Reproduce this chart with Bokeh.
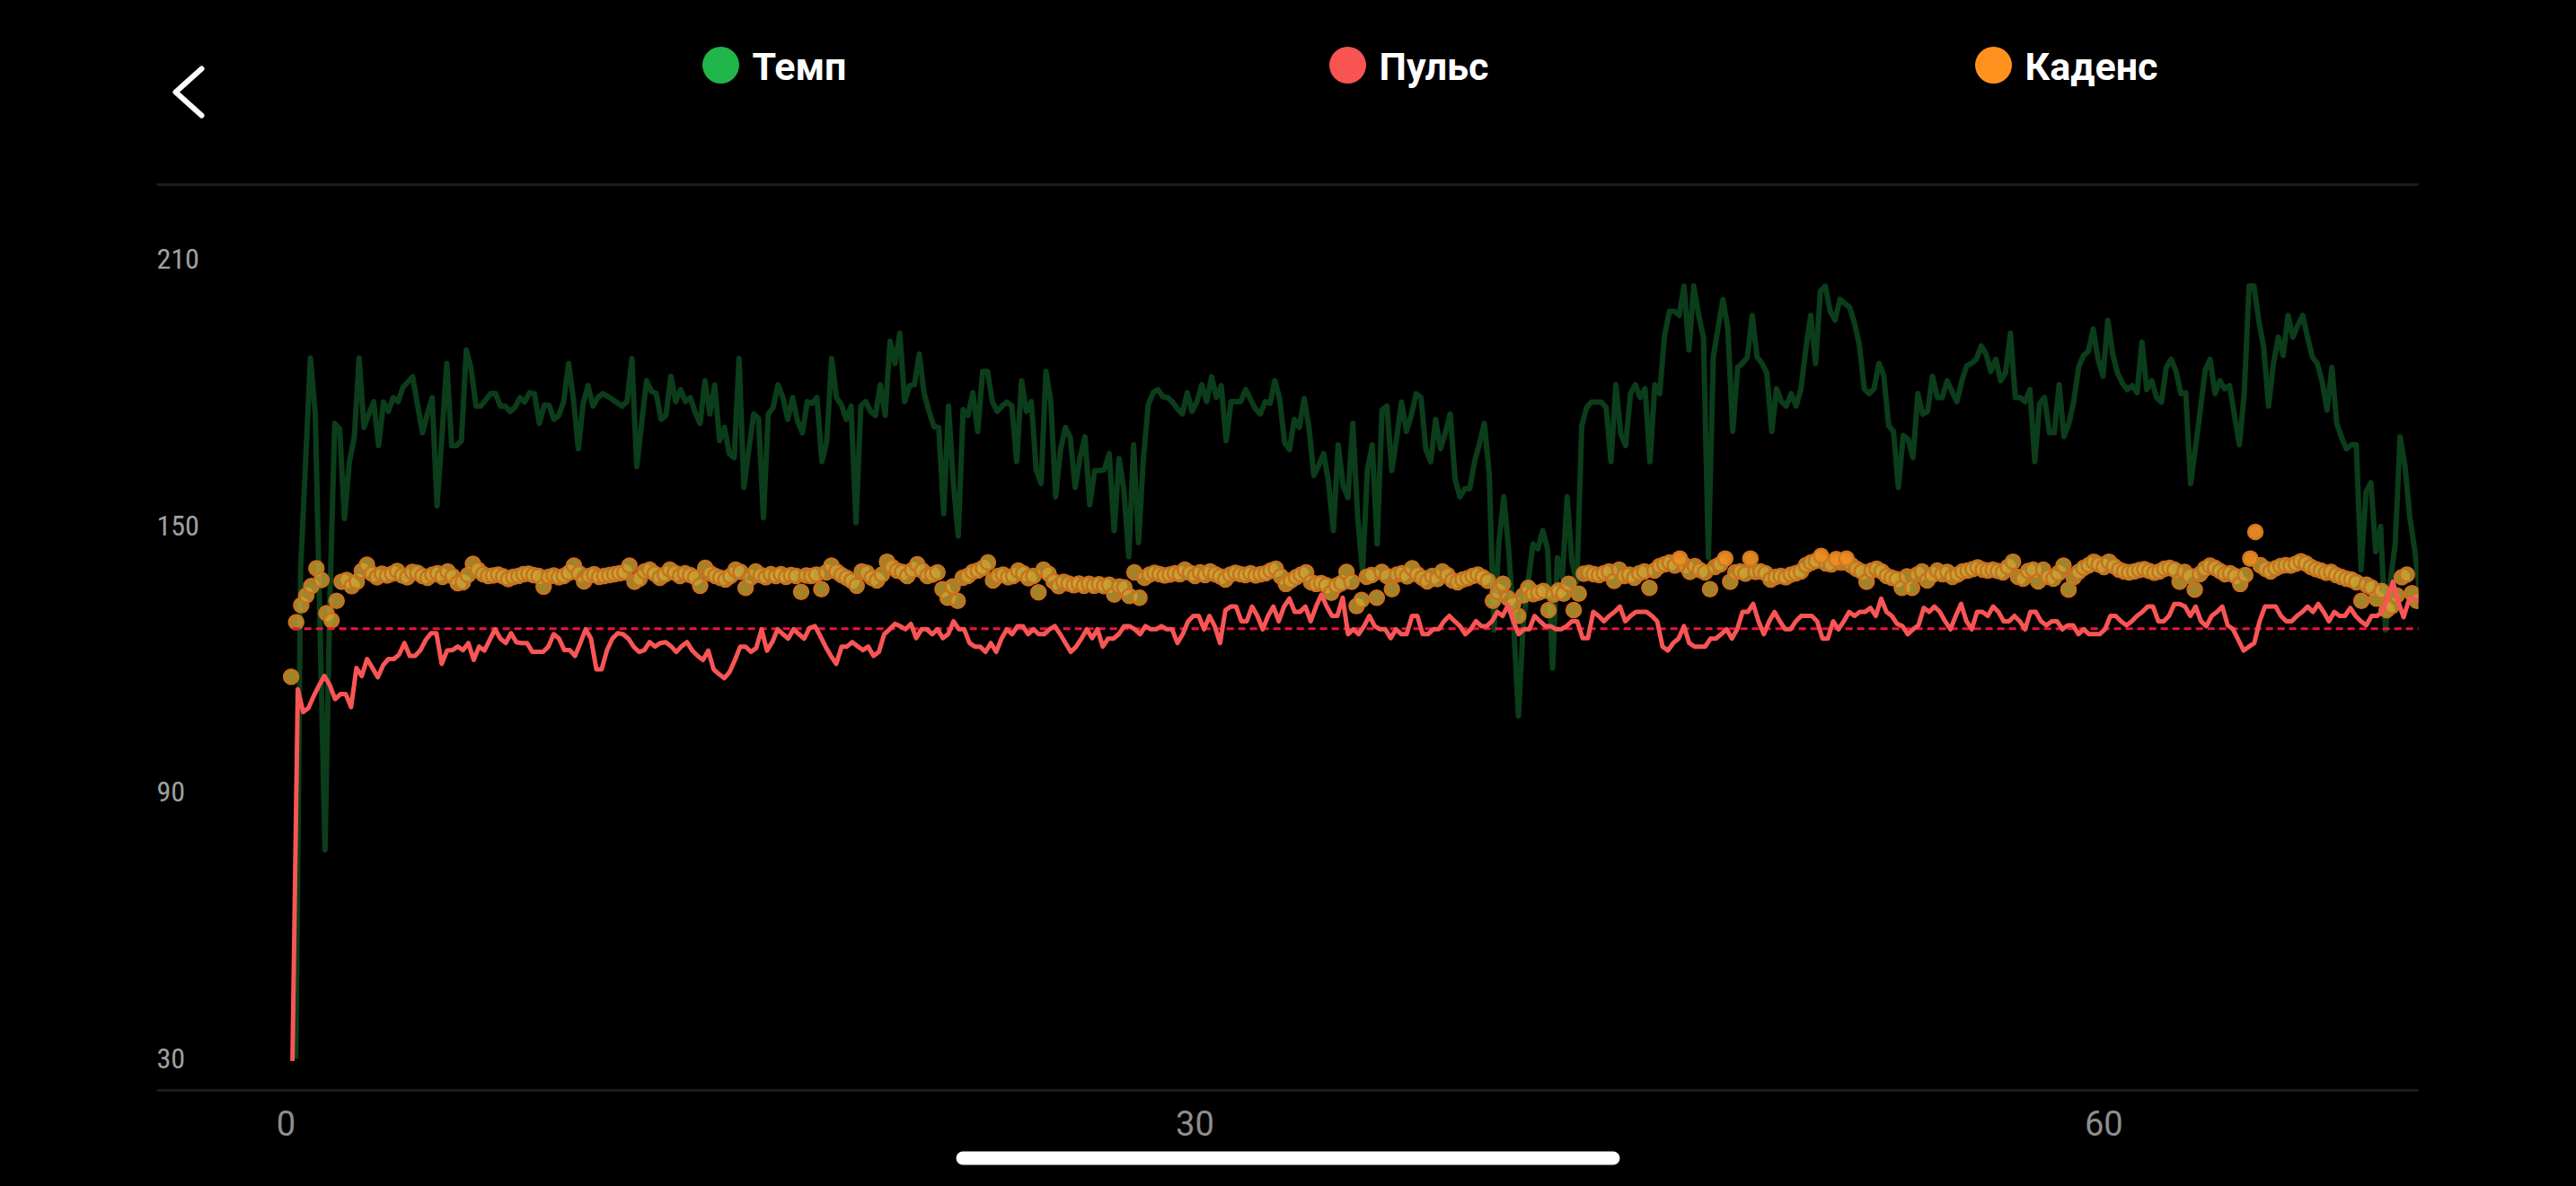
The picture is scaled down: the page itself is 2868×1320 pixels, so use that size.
import numpy as np
from bokeh.plotting import figure
from bokeh.models import Range1d, FixedTicker, LinearAxis
from bokeh.layouts import column
from bokeh.embed import file_html
from bokeh.resources import INLINE
from bokeh.core.properties import value

# ---------------- data ----------------
series_names = ["Темп", "Пульс", "Каденс"]
series_colors = ["#20B548", "#F75452", "#FF921F"]

y_ticks = [30, 90, 150, 210]
x_ticks = [0, 30, 60]

# Темп (green line) in sample order
pace_start_min, pace_end_min = 0.32, 70.42
pace_values = [
    30.0, 140.4, 164.0, 187.6, 175.1, 126.0, 77.0, 133.7, 172.9, 171.7,
    151.5, 164.3, 169.7, 187.6, 172.0, 175.0, 177.8, 167.9, 177.7, 175.6,
    178.7, 177.8, 181.0, 182.2, 183.4, 177.0, 170.8, 175.0, 178.7, 154.4,
    170.0, 186.4, 167.9, 167.9, 169.0, 189.4, 185.1, 176.8, 176.8, 178.2,
    179.6, 179.6, 176.8, 176.8, 175.6, 176.5, 178.7, 177.7, 179.8, 179.6,
    172.9, 177.0, 177.0, 173.8, 174.7, 177.8, 186.4, 178.3, 167.2, 177.4,
    181.4, 176.8, 178.7, 179.6, 179.0, 178.3, 177.5, 176.8, 177.8, 187.5,
    163.2, 173.0, 182.5, 180.1, 179.6, 173.8, 174.7, 183.5, 177.8, 180.5,
    177.8, 178.7, 175.3, 172.9, 182.5, 175.0, 181.6, 169.0, 172.0, 166.1,
    165.2, 187.5, 158.5, 167.0, 175.0, 174.0, 151.7, 175.0, 176.5, 181.6,
    178.7, 173.8, 178.7, 173.5, 170.8, 177.8,
    177.4, 178.7, 164.3, 168.8, 187.5, 178.7, 177.1, 173.8, 176.8, 150.6,
    176.8, 177.8, 175.6, 174.7, 181.6, 174.7, 191.4, 186.4, 193.2, 177.8,
    181.4, 181.6, 188.5, 179.6, 175.6, 172.2, 172.0, 152.6, 176.8, 159.4,
    147.6, 176.0, 174.7, 179.8, 171.1, 184.6, 184.6, 177.8, 175.6, 176.8,
    177.7, 176.8, 164.3, 182.5, 175.6, 177.8, 162.5, 159.4, 184.6, 177.8,
    156.4, 167.0, 172.0, 169.7, 158.5, 165.2, 169.9, 154.6, 162.3, 162.3,
    162.5, 166.1, 148.8, 165.0, 158.0, 142.9, 168.1, 146.1, 164.8, 177.1,
    179.8, 180.5, 178.9, 178.7, 177.7, 176.2, 175.0, 179.8, 175.6, 177.8,
    181.6, 177.8, 183.4, 178.7, 181.4, 169.0, 177.8, 177.8, 177.8, 180.5,
    178.3, 176.2, 175.0, 177.8, 177.4, 182.5, 178.3, 168.6, 167.0, 173.8,
    172.0, 178.5, 172.0, 161.2, 163.4, 166.1, 159.8, 148.8, 168.1, 158.9,
    156.2,
    172.9, 151.7, 139.5, 162.5, 168.1, 145.8, 175.9, 176.8, 162.3, 169.7,
    177.7, 171.1, 174.7, 179.6, 178.7, 167.0, 164.3, 173.8, 167.2, 170.8,
    175.0, 160.3, 156.4, 158.2, 158.2, 164.3, 168.4, 172.9, 161.6, 126.4,
    146.3, 156.4, 144.5, 128.2, 107.1, 128.1, 137.3, 145.8, 144.7, 148.8,
    144.5, 117.9, 142.7, 138.2, 156.4, 141.6, 137.3, 172.4, 176.5, 177.7,
    177.7, 177.7, 176.5, 164.3, 181.6, 170.6, 167.9, 179.6, 181.6, 178.7,
    180.7, 164.3, 181.6, 179.6, 192.7, 198.1, 198.1, 197.2, 203.8, 189.4,
    203.8, 197.2, 192.1, 142.7, 187.8, 194.5, 200.8, 194.1, 171.1, 185.5,
    186.4, 187.8, 197.2, 187.8, 186.4, 184.2, 171.1, 180.7, 177.8, 176.8,
    179.6, 176.8, 180.7, 189.6, 197.2, 186.4, 202.6, 203.8, 198.1, 196.1,
    200.8, 199.9, 199.0, 195.4, 190.5, 180.7, 179.6, 180.7, 186.4, 183.7,
    172.4, 171.1, 158.5, 170.2, 169.3, 165.2, 179.6, 175.0, 175.6, 183.5,
    178.7, 178.7, 182.5, 180.1, 177.8, 182.3, 185.8, 186.4, 187.3, 190.3,
    188.5, 184.6, 187.3, 182.5, 184.3, 193.2, 178.7, 178.7, 177.8, 180.5,
    164.3, 177.4, 178.7, 170.8, 170.8, 181.6, 169.9, 172.9, 177.8, 185.5,
    188.2, 189.1, 194.1, 187.3, 183.5, 196.1, 188.5, 184.2, 181.9, 180.5,
    181.4, 179.8, 191.2, 180.5, 182.5, 178.7, 177.7, 185.5, 187.3, 184.6,
    179.6, 179.8, 159.4, 167.5, 176.0, 184.9, 187.3, 179.6, 182.5, 180.7,
    181.4, 174.7, 168.1, 179.6, 203.8, 203.8, 195.9, 190.0, 176.8, 186.4,
    192.3, 188.2, 197.2, 192.3, 195.0, 197.2, 192.3, 187.8, 186.4, 182.3,
    175.9, 185.5, 172.9, 169.7, 167.2, 168.1, 168.1, 140.0, 157.5, 159.6,
    144.0, 149.7, 126.4, 137.3, 145.8, 169.9, 163.4, 151.7, 144.5, 135.0,
]

# Пульс (red line)
pulse_start_min, pulse_end_min = 0.21, 70.42
pulse_average = 126.7
pulse_values = [
    29.5, 113.1, 108.0, 108.9, 111.6, 114.0, 116.1, 114.0, 110.9, 112.0,
    112.0, 109.1, 117.9, 116.1, 119.9, 117.9, 115.8, 118.5, 119.9, 119.9,
    120.9, 123.5, 120.6, 120.6, 121.9, 124.2, 125.7, 125.7, 118.8, 121.8,
    121.9, 122.7, 121.9, 123.5, 119.7, 122.7, 121.8, 124.2, 126.6, 124.5,
    123.5, 125.7, 123.7, 123.5, 123.5, 121.5, 121.5, 121.5, 122.7, 125.5,
    124.5, 121.9, 121.9, 120.6, 123.5, 126.6, 124.5, 117.6, 117.6, 121.9,
    124.5, 125.7, 125.5, 124.5, 122.7, 121.5, 121.9, 123.7, 122.7, 123.5,
    123.7, 122.8, 121.5, 122.8, 123.7, 121.8, 120.6, 119.7, 121.8, 117.6,
    116.5, 115.6, 117.0, 119.7, 122.7, 122.7, 121.5, 122.4, 126.6, 121.8,
    123.7, 126.6, 125.5, 124.5, 126.6, 125.5, 124.5, 126.9, 127.3,
    125.1, 122.7, 120.6, 118.8, 122.7, 122.7, 123.7, 122.8, 121.9, 122.7,
    120.6, 121.5, 125.5, 126.6, 127.8, 127.3, 126.6, 127.8, 124.6, 126.6,
    126.6, 125.5, 126.6, 124.6, 125.5, 128.4, 126.6, 126.6, 123.5, 122.7,
    122.7, 121.5, 123.5, 121.5, 124.5, 126.6, 125.5, 127.3, 127.3, 125.5,
    126.6, 125.5, 125.5, 126.6, 127.3, 125.5, 123.5, 121.5, 122.7, 124.5,
    126.6, 124.6, 126.6, 122.7, 124.5, 124.5, 125.5, 127.3, 127.3, 126.6,
    125.5, 127.3, 126.6, 126.6, 127.3, 126.6, 126.6, 123.5, 125.5, 128.4,
    129.6, 129.6, 126.6, 129.6, 127.3, 123.5, 130.9, 131.7, 131.7, 128.4,
    128.4, 131.7, 129.6, 126.6, 129.6, 131.7, 128.4, 131.7, 133.5, 130.5,
    130.5, 131.7, 128.4, 131.7, 134.4, 131.7, 129.6, 129.6, 133.7, 125.5,
    126.6, 125.5,
    127.3, 129.6, 127.3, 126.6, 126.6, 124.6, 126.6, 125.5, 125.5, 129.6,
    129.6, 125.5, 125.5, 126.6, 126.6, 128.4, 129.6, 128.4, 127.3, 125.5,
    126.6, 128.4, 127.3, 127.3, 128.4, 130.5, 129.6, 132.0, 128.4, 125.5,
    126.6, 126.6, 129.6, 128.4, 127.3, 127.3, 126.6, 126.6, 127.3, 128.4,
    128.4, 124.6, 124.6, 130.5, 129.6, 128.4, 129.6, 130.5, 131.7, 128.4,
    129.6, 130.5, 130.5, 130.5, 129.6, 128.4, 122.7, 121.8, 123.5, 124.5,
    127.3, 123.5, 122.7, 122.7, 122.7, 124.5, 124.5, 125.5, 126.6, 124.5,
    126.6, 130.5, 130.5, 132.3, 128.4, 125.5, 128.4, 130.5, 128.4, 126.6,
    126.6, 128.4, 129.6, 129.6, 129.6, 128.4, 124.5, 124.5, 128.4, 126.6,
    128.4, 130.5, 129.6, 130.5, 130.5, 131.4, 129.6, 133.5, 130.5, 129.6,
    127.8, 127.3, 125.5, 126.6, 127.5, 131.4, 130.5, 131.7, 130.5, 128.4,
    126.6, 129.6, 132.3, 128.4, 126.6, 130.5, 130.5, 129.6, 131.7, 130.5,
    128.4, 128.4, 129.6, 128.4, 126.6, 130.5, 130.5, 128.4, 127.5, 128.4,
    128.4, 126.6, 127.5, 127.5, 125.5, 126.6, 125.5, 125.5, 125.5, 126.6,
    129.6, 129.6, 128.4, 127.5, 128.4, 129.6, 130.5, 131.7, 131.7, 128.4,
    128.4, 129.6, 132.3, 132.3, 131.7, 129.6, 131.7, 128.4, 127.3, 129.6,
    130.5, 131.7, 127.5, 126.6, 124.2, 121.8, 122.7, 123.5, 128.4, 131.7,
    131.7, 131.7, 129.6, 128.4, 128.4, 129.6, 130.5, 131.7, 130.5, 132.3,
    130.5, 128.4, 130.5, 129.6, 129.6, 131.4, 129.6, 128.4, 127.5, 129.6,
    129.6, 130.5, 133.7, 137.3, 132.8, 129.3, 133.2, 133.5, 132.8,
]

# Каденс (dots), one value every 10 s
cadence_step_s = 10
cadence_highlight = 142.2
cadence_values = [
    115.9, 128.2, 132.0, 134.2, 136.3, 140.3, 137.7, 130.2, 128.6, 133.0,
    137.3, 137.7, 136.3, 137.3, 139.7, 141.1, 139.1, 138.3, 139.1, 138.7,
    139.1, 139.7, 138.7, 138.3, 139.5, 139.3, 138.6, 138.2, 138.9, 139.2,
    138.4, 139.6, 138.5, 137.0, 137.2, 138.8, 141.3, 140.0, 139.0, 138.6,
    138.7, 138.9, 138.5, 137.9, 138.4, 138.6, 139.0, 139.1, 138.8, 138.6,
    136.2, 138.4, 138.7, 138.3, 138.6, 139.3, 140.9, 139.2, 137.4, 138.6,
    139.0, 138.4, 138.6, 138.8, 139.0, 139.2, 139.4, 140.9, 137.3, 138.0,
    139.6, 140.0, 139.1, 138.2, 138.9, 140.0, 139.3, 138.6, 139.2, 138.8,
    138.3, 136.4, 140.4, 139.2, 138.6, 138.2, 137.8, 138.6, 140.0, 139.5,
    135.9, 138.2, 139.6, 138.8, 138.3, 139.0, 138.6, 139.0, 138.4, 138.8,
    138.6, 135.0, 138.7,
    138.6, 138.9, 135.6, 139.4, 140.9, 139.6, 138.8, 138.2, 137.5, 136.4,
    139.6, 139.3, 138.2, 137.6, 138.9, 141.8, 140.6, 139.8, 139.5, 138.6,
    139.9, 141.2, 139.8, 138.6, 138.9, 139.4, 135.6, 133.7, 136.2, 133.0,
    138.2, 138.6, 139.5, 139.8, 140.4, 141.6, 137.6, 138.6, 138.9, 138.3,
    138.6, 139.8, 139.2, 138.1, 138.6, 134.9, 140.0, 139.1, 137.4, 136.3,
    137.3, 136.9, 136.5, 136.9, 136.4, 136.8, 136.4, 136.7, 136.3, 136.6,
    134.4, 136.2, 136.0, 134.1, 139.4, 133.7, 138.2, 138.9, 139.3, 139.0,
    138.7, 138.9, 139.2, 139.0, 140.0, 139.3, 138.6, 139.4, 138.8, 139.6,
    139.0, 138.5, 137.8, 138.9, 139.3, 139.0, 138.8, 139.2, 138.7, 139.0,
    139.2, 139.8, 140.2, 138.5, 136.8, 137.6, 138.3, 138.9, 139.4, 137.2,
    136.8, 137.0, 136.5, 134.8, 136.4, 137.0, 139.5,
    137.3, 131.8, 133.2, 138.4, 138.8, 133.7, 139.5, 138.6, 135.6, 138.9,
    139.2, 138.5, 140.3, 139.0, 138.2, 137.4, 138.6, 137.9, 139.6, 138.8,
    137.6, 137.2, 137.8, 138.1, 138.6, 138.9, 138.3, 137.5, 133.0, 135.0,
    136.8, 133.6, 132.3, 129.6, 134.2, 135.9, 134.5, 134.8, 135.2, 130.9,
    134.4, 135.3, 134.6, 136.8, 130.9, 134.6, 139.1, 139.3, 139.0, 138.8,
    139.2, 139.6, 137.5, 140.0, 138.6, 138.9, 138.2, 139.2, 139.6, 135.9,
    139.8, 140.8, 141.2, 141.6, 140.9, 142.5, 141.0, 139.5, 140.8, 139.9,
    139.4, 135.6, 140.6, 141.2, 142.5, 137.3, 139.4, 139.6, 139.1, 142.5,
    139.5, 139.6, 139.2, 137.8, 138.4, 138.6, 138.3, 138.9, 139.2, 139.6,
    141.0, 141.6, 142.0, 143.1, 141.4, 141.2, 142.4, 141.6, 142.5, 141.0,
    140.2, 139.6, 137.3, 139.8, 140.2, 139.6,
    138.6, 138.2, 137.9, 135.9, 138.5, 135.9, 138.9, 139.6, 137.6, 138.8,
    139.8, 139.0, 139.5, 138.4, 138.9, 139.6, 139.8, 140.1, 140.5, 140.0,
    139.8, 140.0, 139.7, 139.4, 140.6, 141.8, 138.4, 138.0, 139.7, 140.0,
    137.4, 140.0, 138.4, 138.0, 139.2, 140.9, 135.5, 138.3, 139.5, 140.4,
    141.0, 141.8, 141.2, 140.6, 141.8, 140.8, 140.0, 139.6, 139.4, 139.6,
    139.9, 140.1, 139.7, 139.3, 139.6, 140.2, 140.4, 140.0, 137.3, 139.5,
    138.6, 135.5, 139.0, 140.2, 140.9, 140.4, 139.7, 139.0, 139.2, 138.6,
    136.8, 138.8, 142.5, 148.5, 141.0, 140.2, 139.6, 140.3, 140.8, 141.0,
    140.9, 141.3, 141.9, 141.4, 140.6, 140.1, 139.8, 139.3, 139.5, 138.8,
    138.4, 138.0, 137.8, 137.2, 133.0, 136.6, 136.0, 133.5, 135.2, 130.9,
    131.8, 134.2, 138.3, 138.9, 134.7, 133.0,
]

# ---------------- layout / style ----------------
W = 2868
BG = "#000000"
HEADER_H, MAIN_H, FOOTER_H = 150, 1130, 40
BORDER_L, BORDER_R = 174, 176
FRAME_X0, FRAME_X1 = BORDER_L, W - BORDER_R          # 174 .. 2692 px
x_start, x_end = -4.27, 70.38
y_start, y_end = 22.9, 226.6
RULE_COLOR = "#1C1C1C"
NARROW_FONT = ("Liberation Sans Narrow, Roboto Condensed, Noto Sans Condensed, "
               "DejaVu Sans Condensed, Arial Narrow, Roboto")

pace_t = np.linspace(pace_start_min, pace_end_min, len(pace_values))
pulse_t = np.linspace(pulse_start_min, pulse_end_min, len(pulse_values))
cad_arr = np.array(cadence_values)
cad_t = (np.arange(len(cadence_values)) + 1) * cadence_step_s / 60.0
hi = cad_arr >= cadence_highlight


def strip(height):
    # a figure whose frame spans the same columns as the chart; units = page px
    f = figure(width=W, height=height, x_range=Range1d(FRAME_X0, FRAME_X1),
               y_range=Range1d(height, 0), output_backend="svg",
               toolbar_location=None, tools="",
               min_border_left=BORDER_L, min_border_right=BORDER_R,
               min_border_top=0, min_border_bottom=0,
               x_axis_location=None, y_axis_location=None,
               background_fill_color=BG, border_fill_color=BG)
    f.outline_line_color = None
    f.outline_line_alpha = 0
    f.grid.visible = False
    return f


# header: back chevron + legend
header = strip(HEADER_H)
header.line([224, 195, 224], [76, 102, 128], line_color="#FFFFFF",
            line_width=6, line_cap="round", line_join="round")
legend_cx = [802, 1500, 2219]
legend_cy = [72, 72, 72]
header.scatter(legend_cx, legend_cy, size=41, marker="circle",
               fill_color=series_colors, line_color=None)
header.text([c + 35 for c in legend_cx], [y + 1 for y in legend_cy],
            text=series_names, text_color="#FFFFFF",
            text_font=value("Roboto"), text_font_size="43px",
            text_font_style="bold", text_align="left",
            text_baseline="middle")

# main chart
p = figure(width=W, height=MAIN_H, x_range=Range1d(x_start, x_end),
           y_range=Range1d(y_start, y_end), output_backend="svg",
           toolbar_location=None, tools="", x_axis_location="below",
           y_axis_location=None, background_fill_color=BG,
           border_fill_color=BG,
           min_border_left=BORDER_L, min_border_right=BORDER_R,
           min_border_top=55, min_border_bottom=67)
p.outline_line_color = None
p.outline_line_alpha = 0
p.grid.visible = False

xa = p.xaxis[0]
xa.ticker = FixedTicker(ticks=x_ticks)
xa.axis_line_color = RULE_COLOR
xa.axis_line_width = 3
xa.major_tick_line_color = None
xa.minor_tick_line_color = None
xa.major_label_text_color = "#8E8E8E"
xa.major_label_text_font = "Roboto"
xa.major_label_text_font_size = "38px"
xa.major_label_standoff = 16

top = LinearAxis(ticker=FixedTicker(ticks=[]), axis_line_color=RULE_COLOR,
                 axis_line_width=3, major_tick_line_color=None,
                 minor_tick_line_color=None, major_label_text_font_size="0px")
p.add_layout(top, "above")

# y tick labels drawn inside the plot area
p.text([x_start] * len(y_ticks), y_ticks, text=[str(t) for t in y_ticks],
       text_color="#A0A0A0", text_font=value(NARROW_FONT),
       text_font_size="32px", text_align="left", text_baseline="middle")

p.line(pace_t, pace_values, line_color="#0B3D1B", line_width=6,
       line_join="round")
p.scatter(cad_t[~hi], cad_arr[~hi], size=16, marker="circle",
          fill_color="#C9A535", fill_alpha=0.8,
          line_color="#C8721F", line_width=2.5)
p.scatter(cad_t[hi], cad_arr[hi], size=16, marker="circle",
          fill_color="#EC8E26", fill_alpha=0.95,
          line_color="#D2781E", line_width=2.5)
p.line([pulse_t[0], pulse_t[-1]], [pulse_average, pulse_average],
       line_color="#E8163C", line_width=3, line_dash="8 5")
p.line(pulse_t, pulse_values, line_color="#F95555", line_width=5,
       line_join="round")

# footer: home indicator
footer = strip(FOOTER_H)
footer.line([1071.5, 1795.5], [8.5, 8.5], line_color="#FFFFFF",
            line_width=15, line_cap="round")

layout = column(header, p, footer, spacing=0)
html = file_html(layout, INLINE)
html = html.replace("</head>",
                    "<style>html, body { background-color: #000000 !important; }</style></head>", 1)
open("out.html", "w").write(html)
